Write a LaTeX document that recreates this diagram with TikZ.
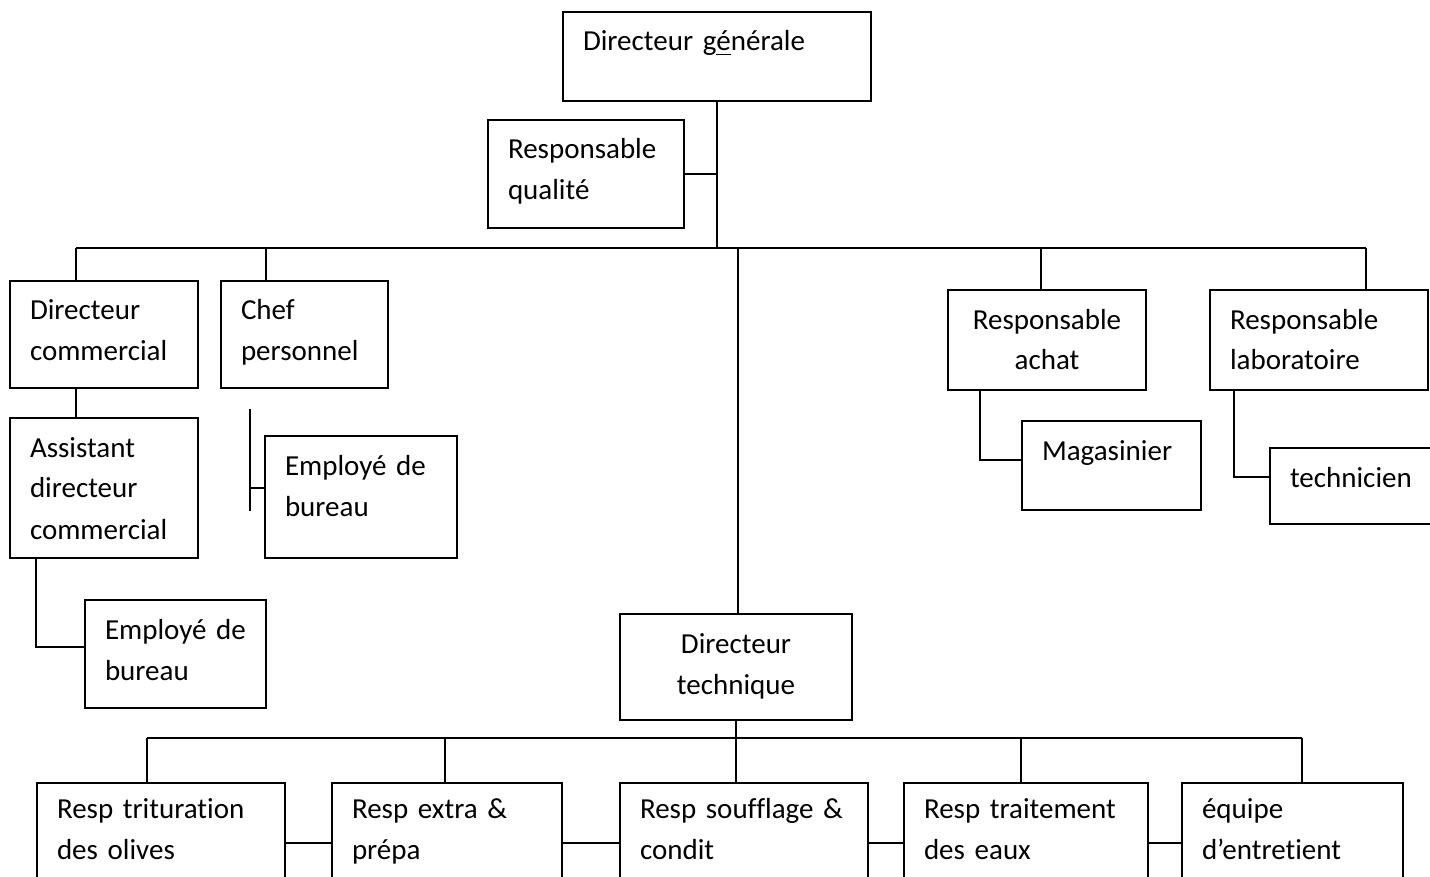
\documentclass[tikz,border=0pt]{standalone}
\usepackage{fontspec}
\setmainfont{Carlito}[Ligatures=NoCommon]
\usepackage{tikz}
\usetikzlibrary{positioning}

\tikzset{
  poste/.style={draw, line width=1pt, anchor=north west, inner xsep=10pt, inner ysep=0pt,
    outer sep=0pt, align=left, text height=19.5pt,
    font=\fontsize{14.5}{20.5}\selectfont},
  lien/.style={line width=1pt}
}

\begin{document}
\begin{tikzpicture}[x=0.5pt,y=-0.5pt]
  \useasboundingbox (0,0) rectangle (1430,877);
  \clip (0,0) rectangle (1430,877);

  \node[poste, text width=134pt, text depth=25pt] (dg) at (563,12) {Directeur g\underline{é}nérale};
  \node[poste, text width=78pt, text depth=34.5pt] (rq) at (488,120) {Responsable\\qualité};
  \node[poste, text width=74pt, text depth=34pt] (dc) at (10,281) {Directeur\\commercial};
  \node[poste, text width=63.5pt, text depth=34pt] (cp) at (221,281) {Chef\\personnel};
  \node[poste, text width=79pt, text depth=30.5pt, align=center] (ra) at (948,290) {Responsable\\achat};
  \node[poste, text width=89pt, text depth=30.5pt] (rl) at (1210,290) {Responsable\\laboratoire};
  \node[poste, text width=74pt, text depth=50.5pt] (adc) at (10,418) {Assistant\\directeur\\commercial};
  \node[poste, text width=76pt, text depth=41.5pt] (eb1) at (265,436) {Employé de\\bureau};
  \node[poste, text width=69.5pt, text depth=25pt] (mag) at (1022,421) {Magasinier};
  \node[poste, text width=80pt, text depth=18.5pt] (tech) at (1270,448) {technicien};
  \node[poste, text width=70.5pt, text depth=34.5pt] (eb2) at (85,600) {Employé de\\bureau};
  \node[poste, text width=96pt, text depth=33.5pt, align=center] (dt) at (620,614) {Directeur\\technique};

  \node[poste, text width=104pt, text height=17.5pt, text depth=42.5pt] (t1) at (37,783) {Resp trituration\\des olives};
  \node[poste, text width=95pt, text height=17.5pt, text depth=42.5pt] (t2) at (332,783) {Resp extra \&\\prépa};
  \node[poste, text width=104pt, text height=17.5pt, text depth=42.5pt] (t3) at (620,783) {Resp soufflage \&\\condit};
  \node[poste, text width=102pt, text height=17.5pt, text depth=42.5pt] (t4) at (904,783) {Resp traitement\\des eaux};
  \node[poste, text width=90.5pt, text height=17.5pt, text depth=42.5pt] (t5) at (1182,783) {équipe\\d’entretient};

  \coordinate (haut) at (717,248);
  \coordinate (b1) at (76,248);
  \coordinate (b2) at (266,248);
  \coordinate (b3) at (1041,248);
  \coordinate (b4) at (738,248);
  \coordinate (b5) at (1366,248);
  \coordinate (c1) at (250,409);
  \coordinate (c2) at (250,511);
  \coordinate (c3) at (250,488);
  \coordinate (d1) at (147,738);
  \coordinate (d2) at (445,738);
  \coordinate (d4) at (1021,738);
  \coordinate (d5) at (1302,738);

  \draw[lien] (dg.south) -- (haut);
  \draw[lien] (rq.east) -- (rq.east -| haut);
  \draw[lien] (b1) -- (b5);
  \foreach \b/\n in {b1/dc, b2/cp, b3/ra, b4/dt, b5/rl}
    \draw[lien] (\b) -- (\b |- \n.north);
  \draw[lien] (b1 |- dc.south) -- (b1 |- adc.north);
  \draw[lien] ([xshift=13pt]adc.south west) |- ([yshift=3.5pt]eb2.west);
  \draw[lien] (c1) -- (c2);
  \draw[lien] (c3) -- (c3 -| eb1.west);
  \draw[lien] ([xshift=16pt]ra.south west) |- ([yshift=3pt]mag.west);
  \draw[lien] ([xshift=12pt]rl.south west) |- ([yshift=4.5pt]tech.west);

  \draw[lien] (dt.south) -- (dt.south |- t3.north);
  \draw[lien] (d1) -- (d5);
  \foreach \d/\n in {d1/t1, d2/t2, d4/t4, d5/t5}
    \draw[lien] (\d) -- (\d |- \n.north);
  \foreach \a/\b in {t1/t2, t2/t3, t3/t4, t4/t5}
    \draw[lien] (\a.east) -- (\b.west);
\end{tikzpicture}
\end{document}
